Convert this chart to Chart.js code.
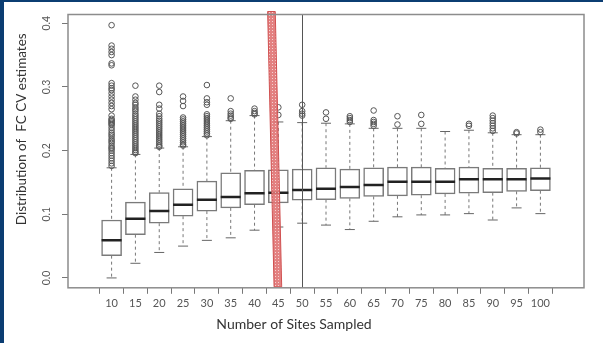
<!DOCTYPE html>
<html>
<head>
<meta charset="utf-8">
<script src="https://cdn.jsdelivr.net/npm/chart.js@4.4.0/dist/chart.umd.min.js"></script>
<style>
    body { margin: 0; background: #0b3d72; }
    #wrap { position: absolute; left: 4px; top: 2px; width: 599px; height: 341px; background: #fff; }
</style>
</head>
<body>
<div id="wrap"><canvas id="myChart"></canvas></div>
<script>
// number of sites sampled (x categories)
const sites = [10, 15, 20, 25, 30, 35, 40, 45, 50, 55, 60, 65, 70, 75, 80, 85, 90, 95, 100];

// box plot statistics
const whiskerLow  = [0.000, 0.023, 0.040, 0.050, 0.059, 0.063, 0.075, 0.080, 0.086, 0.083, 0.076, 0.089, 0.096, 0.099, 0.099, 0.101, 0.091, 0.110, 0.101];
const q1          = [0.035, 0.068, 0.086, 0.097, 0.105, 0.110, 0.115, 0.118, 0.122, 0.123, 0.125, 0.128, 0.129, 0.130, 0.132, 0.133, 0.134, 0.136, 0.137];
const median      = [0.059, 0.093, 0.105, 0.115, 0.123, 0.127, 0.133, 0.134, 0.138, 0.140, 0.143, 0.146, 0.151, 0.151, 0.151, 0.155, 0.155, 0.155, 0.156];
const q3          = [0.091, 0.119, 0.134, 0.140, 0.152, 0.165, 0.169, 0.170, 0.171, 0.173, 0.171, 0.173, 0.174, 0.174, 0.172, 0.174, 0.172, 0.172, 0.173];
const whiskerHigh = [0.173, 0.194, 0.204, 0.206, 0.222, 0.247, 0.255, 0.245, 0.244, 0.243, 0.242, 0.235, 0.235, 0.235, 0.230, 0.232, 0.228, 0.225, 0.225];

const outliers = [
    [0.397, 0.365, 0.36, 0.355, 0.35, 0.337, 0.334, 0.306, 0.302, 0.298, 0.295, 0.29, 0.285, 0.28, 0.275, 0.27, 0.265, 0.255, 0.25, 0.248, 0.246, 0.244, 0.242, 0.24, 0.236, 0.232, 0.228, 0.225, 0.222, 0.218, 0.215, 0.212, 0.208, 0.205, 0.203, 0.2, 0.196, 0.192, 0.188, 0.184, 0.18, 0.176],
    [0.302, 0.285, 0.28, 0.275, 0.272, 0.268, 0.265, 0.262, 0.258, 0.255, 0.252, 0.249, 0.246, 0.243, 0.24, 0.237, 0.234, 0.231, 0.228, 0.225, 0.222, 0.219, 0.216, 0.213, 0.21, 0.207, 0.204, 0.201, 0.198, 0.196],
    [0.302, 0.292, 0.272, 0.266, 0.258, 0.254, 0.25, 0.247, 0.244, 0.241, 0.238, 0.235, 0.232, 0.229, 0.226, 0.223, 0.22, 0.217, 0.214, 0.211, 0.208, 0.206],
    [0.285, 0.278, 0.27, 0.252, 0.249, 0.246, 0.243, 0.24, 0.237, 0.234, 0.231, 0.228, 0.225, 0.222, 0.219, 0.216, 0.213, 0.21, 0.208],
    [0.303, 0.282, 0.276, 0.272, 0.257, 0.254, 0.251, 0.248, 0.245, 0.242, 0.239, 0.236, 0.233, 0.23, 0.227, 0.224],
    [0.282, 0.262, 0.258, 0.255, 0.252, 0.25],
    [0.266, 0.262, 0.259, 0.257],
    [0.268, 0.256],
    [0.272, 0.262, 0.258, 0.255],
    [0.26, 0.25],
    [0.254, 0.251, 0.248, 0.245],
    [0.263, 0.248, 0.245, 0.242, 0.239],
    [0.254, 0.241],
    [0.256, 0.242],
    [],
    [0.242, 0.239],
    [0.255, 0.251, 0.247, 0.243, 0.239, 0.235, 0.231],
    [0.229, 0.227],
    [0.233, 0.229]
];

const yTicks = [0, 0.1, 0.2, 0.3, 0.4];

// marked sample sizes: red band near 45, thin line at 50
const markLine = 50;
const band45 = { topFrom: 42.75, topTo: 44.35, bottomFrom: 44.1, bottomTo: 45.7 };

window.onload = () => {

    const boxData = sites.map((s, i) => ({ x: s, y: [q1[i], q3[i]] }));
    const medianData = sites.map((s, i) => ({ x: s, y: median[i] }));
    const capData = sites.flatMap((s, i) => [{ x: s, y: whiskerLow[i] }, { x: s, y: whiskerHigh[i] }]);
    const whiskerData = sites.flatMap((s, i) => [
        { x: s, y: whiskerHigh[i] }, { x: s, y: q3[i] }, { x: s, y: null },
        { x: s, y: q1[i] }, { x: s, y: whiskerLow[i] }, { x: s, y: null }
    ]);
    const outlierData = sites.flatMap((s, i) => outliers[i].map(v => ({ x: s, y: v })));

    // small dotted pattern for the red band
    const pat = document.createElement('canvas');
    pat.width = 3; pat.height = 3;
    const pctx = pat.getContext('2d');
    pctx.fillStyle = '#e07474';
    pctx.fillRect(0, 0, 3, 3);
    pctx.fillStyle = '#f4cccc';
    pctx.fillRect(1, 1, 1, 1);

    const extras = {
        id: 'extras',
        afterDatasetsDraw(chart) {
            const c = chart.ctx;
            const a = chart.chartArea;
            const x = chart.scales.x;

            c.save();
            // vertical line at 50
            c.strokeStyle = '#555';
            c.lineWidth = 1;
            const lx = Math.round(x.getPixelForValue(markLine)) + 0.5;
            c.beginPath();
            c.moveTo(lx, a.top);
            c.lineTo(lx, a.bottom);
            c.stroke();

            // red band
            const top = a.top - 3, bottom = a.bottom - 1;
            c.beginPath();
            c.moveTo(x.getPixelForValue(band45.topFrom), top);
            c.lineTo(x.getPixelForValue(band45.topTo), top);
            c.lineTo(x.getPixelForValue(band45.bottomTo), bottom);
            c.lineTo(x.getPixelForValue(band45.bottomFrom), bottom);
            c.closePath();
            c.fillStyle = c.createPattern(pat, 'repeat');
            c.globalAlpha = 0.9;
            c.fill();
            c.globalAlpha = 1;
            c.strokeStyle = '#d05050';
            c.stroke();
            c.restore();
        },
        afterDraw(chart) {
            const c = chart.ctx;
            const a = chart.chartArea;
            const y = chart.scales.y;

            c.save();
            // plot frame
            c.strokeStyle = '#8c8c8c';
            c.lineWidth = 1.5;
            c.strokeRect(a.left, a.top, a.right - a.left, a.bottom - a.top);

            // rotated y tick labels
            c.fillStyle = '#555';
            c.font = '10.5px Lato';
            c.textAlign = 'center';
            c.textBaseline = 'middle';
            y.ticks.forEach(t => {
                c.save();
                c.translate(43, y.getPixelForValue(t.value));
                c.rotate(-Math.PI / 2);
                c.fillText(t.value.toFixed(1), 0, 0);
                c.restore();
            });

            // y axis title
            c.fillStyle = '#333';
            c.font = '13.5px Lato';
            c.translate(18, a.top + (a.bottom - a.top) * 0.42);
            c.rotate(-Math.PI / 2);
            c.fillText('Distribution of  FC CV estimates', 0, 0);
            c.restore();
        }
    };

    const ctx = document.getElementById('myChart').getContext('2d');
    const myChart = new Chart(ctx, {
        type: 'bar',
        data: {
            datasets: [
                {
                    type: 'scatter',
                    data: outlierData,
                    pointStyle: 'circle',
                    radius: 2.8,
                    backgroundColor: 'rgba(0,0,0,0)',
                    borderColor: '#555',
                    borderWidth: 1,
                    order: 0
                },
                {
                    type: 'scatter',
                    data: medianData,
                    pointStyle: 'line',
                    radius: 10,
                    borderColor: '#222',
                    borderWidth: 2.5,
                    order: 1
                },
                {
                    type: 'scatter',
                    data: capData,
                    pointStyle: 'line',
                    radius: 5,
                    borderColor: '#666',
                    borderWidth: 1,
                    order: 2
                },
                {
                    type: 'bar',
                    data: boxData,
                    backgroundColor: '#fff',
                    borderColor: '#7a7a7a',
                    borderWidth: 1.5,
                    borderSkipped: false,
                    barThickness: 20,
                    order: 3
                },
                {
                    type: 'line',
                    data: whiskerData,
                    borderColor: '#777',
                    borderWidth: 1,
                    borderDash: [3, 3],
                    pointRadius: 0,
                    spanGaps: false,
                    order: 4
                }
            ]
        },
        options: {
            responsive: true,
            maintainAspectRatio: false,
            animation: false,
            layout: { padding: { top: 8, right: 19, left: 0, bottom: 0 } },
            scales: {
                x: {
                    type: 'linear',
                    min: 3.7,
                    max: 106.3,
                    afterBuildTicks: axis => { axis.ticks = sites.map(v => ({ value: v })); },
                    afterFit: axis => { axis.height = 28.4; },
                    ticks: {
                        autoSkip: false,
                        maxRotation: 0,
                        padding: 3,
                        color: '#555',
                        font: { family: 'Lato', size: 11 },
                        callback: v => String(v)
                    },
                    grid: { drawOnChartArea: false, tickLength: 6, color: '#777' },
                    border: { display: false }
                },
                y: {
                    type: 'linear',
                    min: -0.0155,
                    max: 0.4138,
                    afterBuildTicks: axis => { axis.ticks = yTicks.map(v => ({ value: v })); },
                    afterFit: axis => { axis.width = 64; },
                    ticks: { display: false },
                    grid: { drawOnChartArea: false, tickLength: 6, color: '#777' },
                    border: { display: false }
                }
            },
            plugins: {
                legend: { display: false },
                tooltip: { enabled: false },
                title: {
                    display: true,
                    text: 'Number of Sites Sampled',
                    position: 'bottom',
                    color: '#333',
                    font: { family: 'Lato', size: 14, weight: 'normal' },
                    padding: { top: 0, bottom: 10 }
                }
            }
        },
        plugins: [extras]
    });
}
</script>
</body>
</html>
